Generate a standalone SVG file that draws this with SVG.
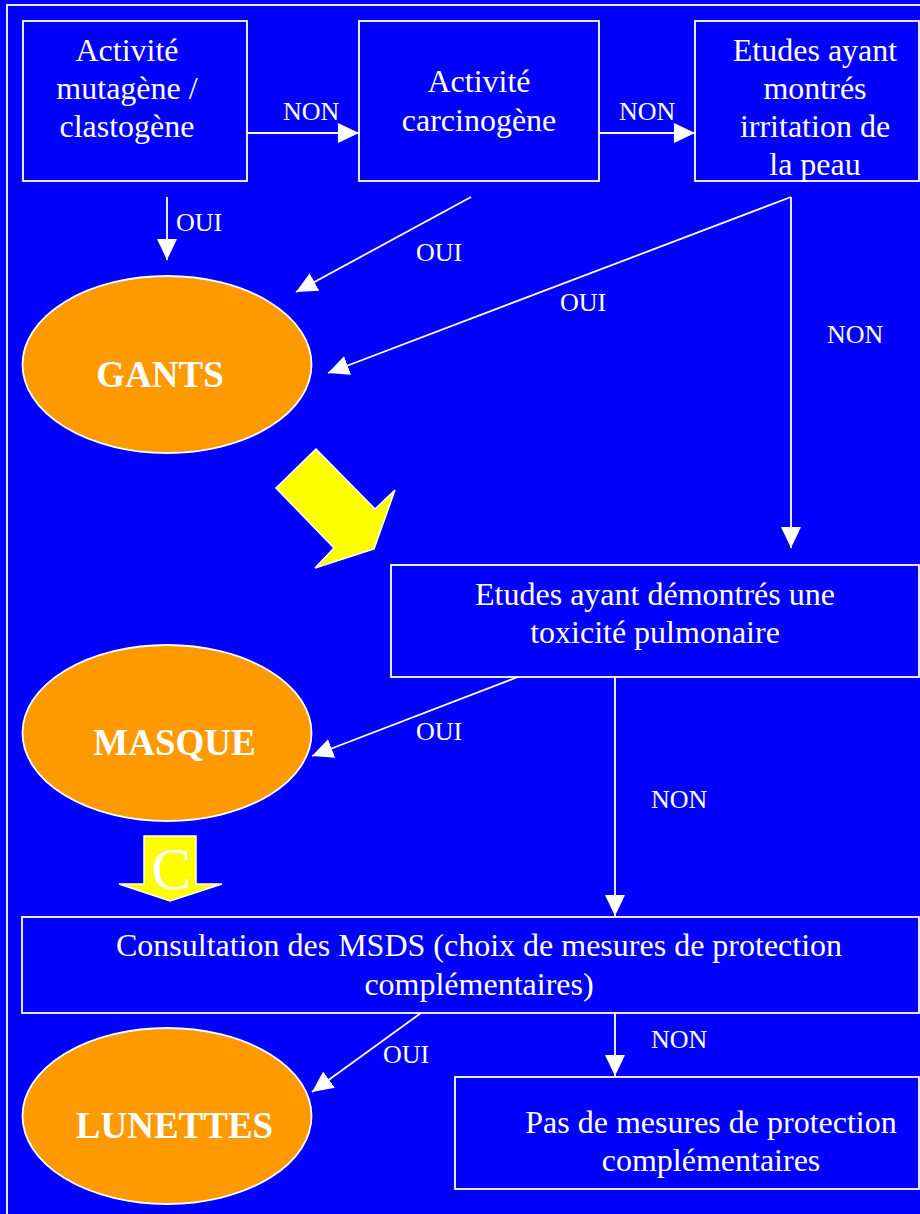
<svg xmlns="http://www.w3.org/2000/svg" width="920" height="1214" viewBox="0 0 920 1214">
  <defs>
    <marker id="ah" markerUnits="userSpaceOnUse" markerWidth="21" markerHeight="20" refX="21" refY="10" orient="auto" viewBox="0 0 21 20">
      <path d="M0,0 L21,10 L0,20 z" fill="#FFFFFF"/>
    </marker>
    <style>
      .box { fill: #0000FF; stroke: #FFFFFF; stroke-width: 1.8; }
      .ell { fill: #FF9900; stroke: #FFFFFF; stroke-width: 1.8; }
      .txt { font-family: "Liberation Serif", "Times New Roman", serif; font-size: 32px; fill: #FFFFFF; text-anchor: middle; }
      .big { font-family: "Liberation Serif", "Times New Roman", serif; font-size: 37px; font-weight: bold; fill: #FFFFFF; text-anchor: middle; }
      .lbl { font-family: "Liberation Serif", "Times New Roman", serif; font-size: 26px; fill: #FFFFFF; }
      .ln { stroke: #FFFFFF; stroke-width: 1.8; fill: none; marker-end: url(#ah); }
      .yel { fill: #FFFF00; stroke: #FFFFFF; stroke-width: 1.5; stroke-linejoin: miter; }
    </style>
  </defs>

  <rect x="0" y="0" width="920" height="1214" fill="#0000FF"/>
  <rect x="7" y="5" width="925" height="1225" fill="none" stroke="#FFFFFF" stroke-width="1.8"/>

  <g id="node-mutagene">
    <rect class="box" x="23" y="21" width="224" height="160"/>
    <text class="txt" x="127" y="61">Activité</text>
    <text class="txt" x="127" y="99">mutagène /</text>
    <text class="txt" x="127" y="137">clastogène</text>
  </g>

  <g id="node-carcinogene">
    <rect class="box" x="359" y="21" width="240" height="160"/>
    <text class="txt" x="479" y="92">Activité</text>
    <text class="txt" x="479" y="131">carcinogène</text>
  </g>

  <g id="node-irritation">
    <rect class="box" x="695" y="21" width="224" height="160"/>
    <text class="txt" x="815" y="61">Etudes ayant</text>
    <text class="txt" x="815" y="99">montrés</text>
    <text class="txt" x="815" y="137">irritation de</text>
    <text class="txt" x="815" y="175">la peau</text>
  </g>

  <g id="node-gants">
    <ellipse class="ell" cx="167" cy="364.5" rx="144.5" ry="88.5"/>
    <text class="big" x="160" y="387">GANTS</text>
  </g>

  <g id="node-pulmonaire">
    <rect class="box" x="391" y="565" width="528" height="112"/>
    <text class="txt" x="655" y="605">Etudes ayant démontrés une</text>
    <text class="txt" x="655" y="643">toxicité pulmonaire</text>
  </g>

  <g id="node-masque">
    <ellipse class="ell" cx="167" cy="733" rx="144.5" ry="88"/>
    <text class="big" x="174.5" y="755">MASQUE</text>
  </g>

  <g id="node-msds">
    <rect class="box" x="22" y="917" width="897" height="96"/>
    <text class="txt" x="479" y="956">Consultation des MSDS (choix de mesures de protection</text>
    <text class="txt" x="479" y="995">complémentaires)</text>
  </g>

  <g id="node-lunettes">
    <ellipse class="ell" cx="167" cy="1116" rx="144.5" ry="88"/>
    <text class="big" x="174.5" y="1138">LUNETTES</text>
  </g>

  <g id="node-pas-de-mesures">
    <rect class="box" x="455" y="1077" width="464" height="112"/>
    <text class="txt" x="711" y="1133">Pas de mesures de protection</text>
    <text class="txt" x="711" y="1171">complémentaires</text>
  </g>

  <g id="decor-arrows">
    <polygon class="yel" points="316,449 375,509 395,490 374,549 315,568 334,548 276,488"/>
    <polygon class="yel" points="144,836 196,836 196,884 222,884 170,901 119,884 144,884"/>
    <text x="171" y="889" font-family="Liberation Serif, Times New Roman, serif" font-size="60" fill="#FFFFFF" text-anchor="middle">C</text>
  </g>

  <g id="connectors">
    <line class="ln" x1="247" y1="133" x2="359" y2="133"/>
    <line class="ln" x1="599" y1="133" x2="695" y2="133"/>
    <line class="ln" x1="167" y1="197" x2="167" y2="260"/>
    <line class="ln" x1="471" y1="197" x2="296" y2="292"/>
    <line class="ln" x1="791" y1="197" x2="328" y2="373"/>
    <line class="ln" x1="791" y1="197" x2="791" y2="548"/>
    <line class="ln" x1="518" y1="677" x2="312" y2="756"/>
    <line class="ln" x1="615" y1="677" x2="615" y2="916"/>
    <line class="ln" x1="421" y1="1013" x2="312" y2="1092"/>
    <line class="ln" x1="615" y1="1013" x2="615" y2="1076"/>

    <text class="lbl" x="283" y="120">NON</text>
    <text class="lbl" x="619" y="120">NON</text>
    <text class="lbl" x="176" y="231">OUI</text>
    <text class="lbl" x="416" y="261">OUI</text>
    <text class="lbl" x="560" y="311">OUI</text>
    <text class="lbl" x="827" y="343">NON</text>
    <text class="lbl" x="416" y="740">OUI</text>
    <text class="lbl" x="651" y="808">NON</text>
    <text class="lbl" x="383" y="1063">OUI</text>
    <text class="lbl" x="651" y="1048">NON</text>
  </g>
</svg>
